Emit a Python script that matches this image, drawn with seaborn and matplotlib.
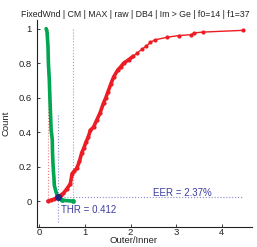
import matplotlib
matplotlib.use("Agg")
import matplotlib.pyplot as plt
import seaborn as sns
import pandas as pd

# values
title = "FixedWnd | CM | MAX | raw | DB4 | Im > Ge | f0=14 | f1=37"

red_x = [0.19, 0.25, 0.33, 0.41, 0.47, 0.53, 0.60, 0.68, 0.72, 0.77, 0.82, 0.88, 0.93,
         0.98, 1.02, 1.07, 1.12, 1.19, 1.26, 1.33, 1.41, 1.46, 1.50, 1.57, 1.63, 1.72,
         1.79, 1.85, 1.96, 2.06, 2.15, 2.25, 2.35, 2.43, 2.54, 2.80, 3.06, 3.33, 3.39,
         3.59, 4.46]
red_y = [0.0, 0.005, 0.012, 0.024, 0.035, 0.045, 0.07, 0.10, 0.16, 0.175, 0.19, 0.23,
         0.28, 0.31, 0.34, 0.37, 0.41, 0.43, 0.47, 0.51, 0.57, 0.60, 0.63, 0.68, 0.72,
         0.76, 0.78, 0.80, 0.82, 0.84, 0.86, 0.88, 0.90, 0.92, 0.935, 0.95, 0.96, 0.965,
         0.975, 0.98, 0.99]

green_x = [0.15, 0.17, 0.19, 0.20, 0.21, 0.22, 0.23, 0.24, 0.25, 0.26, 0.275, 0.285,
           0.29, 0.30, 0.31, 0.32, 0.33, 0.35, 0.37, 0.39, 0.41, 0.45, 0.50, 0.74]
green_y = [1.0, 0.98, 0.9, 0.8, 0.75, 0.7, 0.62, 0.55, 0.48, 0.41, 0.38, 0.35, 0.28,
           0.22, 0.17, 0.14, 0.09, 0.07, 0.05, 0.035, 0.024, 0.012, 0.005, 0.0]

thr = 0.412
eer = 0.0237
red_min = 0.19
green_max = 0.74
x_ticks = [0, 1, 2, 3, 4]
y_ticks = [0, 0.2, 0.4, 0.6, 0.8, 1]

red_df = pd.DataFrame({"x": red_x, "y": red_y})
green_df = pd.DataFrame({"x": green_x, "y": green_y})

sns.set_theme(style="ticks")
plt.rcParams["font.family"] = ["Liberation Sans", "DejaVu Sans"]

fig = plt.figure(figsize=(2.57, 2.47), dpi=100)
ax = fig.add_axes([0.144, 0.081, 0.836, 0.838])

# dotted guide lines
ax.plot([red_min, red_min], [0, 1], ls=":", color="#f08080", lw=0.8)
ax.plot([green_max, green_max], [0, 1], ls=":", color="#66c2a0", lw=0.8)
ax.plot([thr, thr], [-0.12, 0.5], ls=":", color="#8a8ad0", lw=0.8)
ax.plot([thr, red_x[-1]], [eer, eer], ls=":", color="#8a8ad0", lw=0.8)

sns.lineplot(data=red_df, x="x", y="y", ax=ax, color="#ec1c24", lw=1.0,
             marker="o", markersize=3, markeredgewidth=0, sort=False,
             estimator=None)
sns.lineplot(data=red_df.iloc[:30], x="x", y="y", ax=ax, color="#ec1c24", lw=2.6,
             sort=False, estimator=None)
sns.lineplot(data=green_df, x="x", y="y", ax=ax, color="#00a651", lw=2.6,
             sort=False, estimator=None)
sns.lineplot(data=green_df.iloc[-2:], x="x", y="y", ax=ax, color="#00a651", lw=1.0,
             marker="o", markersize=3.5, markeredgewidth=0, sort=False,
             estimator=None)
ax.plot([thr], [eer], "o", color="#24247a", markersize=4)

ax.text(thr + 0.07, -0.05, f"THR = {thr:.3f}", color="#3c3ca0", fontsize=7,
        va="center", ha="left")
ax.text(2.49, eer + 0.025, f"EER = {eer * 100:.2f}%", color="#3c3ca0", fontsize=7,
        va="center", ha="left")

ax.set_xlim(-0.05, 4.66)
ax.set_ylim(-0.15, 1.05)
ax.set_xticks(x_ticks)
ax.set_yticks(y_ticks)
ax.set_yticklabels(["0", "0.2", "0.4", "0.6", "0.8", "1"])
ax.tick_params(direction="in", length=2.5, width=0.6, labelsize=6.8, pad=1,
               colors="#222222")
ax.tick_params(axis="y", pad=4)
for side in ["top", "right"]:
    ax.spines[side].set_visible(False)
for side in ["left", "bottom"]:
    ax.spines[side].set_linewidth(0.8)
    ax.spines[side].set_color("#222222")

ax.set_xlabel("Outer/Inner", fontsize=6.8, color="#222222")
ax.set_ylabel("Count", fontsize=6.8, color="#222222")
ax.xaxis.set_label_coords(0.449, -0.045)
ax.yaxis.set_label_coords(-0.125, 0.5)
fig.text(0.525, 0.943, title, fontsize=6.3, ha="center", va="center", color="#222222")

fig.savefig("out.png", dpi=100)
